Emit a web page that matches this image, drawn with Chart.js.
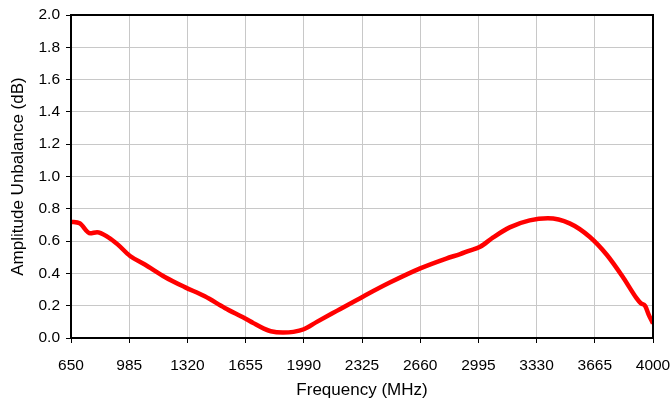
<!DOCTYPE html>
<html>
<head>
<meta charset="utf-8">
<script src="https://cdn.jsdelivr.net/npm/chart.js@4"></script>
<style>
  html, body { margin: 0; padding: 0; background: #fff; }
  #wrap { width: 672px; height: 404px; position: relative; }
</style>
</head>
<body>
<div id="wrap"><canvas id="ampChart"></canvas></div>
<script>
// Frequency sweep (MHz) and measured amplitude unbalance (dB)
const freqs = [650, 700, 760, 800, 865, 920, 990, 1075, 1190, 1305, 1420, 1535, 1650, 1700,
               1760, 1800, 1870, 1930, 1990, 2065, 2180, 2330, 2485, 2660, 2810, 2890, 2940,
               3005, 3080, 3175, 3290, 3395, 3520, 3635, 3735, 3830, 3905, 3930, 3955, 3975, 4000];
const unbalance = [0.72, 0.71, 0.648, 0.655, 0.623, 0.578, 0.508, 0.455, 0.378, 0.315, 0.258, 0.186, 0.122, 0.092,
                   0.058, 0.042, 0.034, 0.038, 0.054, 0.100, 0.168, 0.256, 0.343, 0.431, 0.492, 0.520, 0.540,
                   0.565, 0.623, 0.685, 0.728, 0.741, 0.710, 0.627, 0.514, 0.372, 0.247, 0.215, 0.198, 0.145, 0.090];
const xTicks = [650, 985, 1320, 1655, 1990, 2325, 2660, 2995, 3330, 3665, 4000];

const tickFont = { family: 'Liberation Sans, Arial, sans-serif', size: 15.5 };
const titleFont = { family: 'Liberation Sans, Arial, sans-serif', size: 17 };

// black frame round the plot area (top and right sides)
const framePlugin = {
  id: 'frame',
  afterDraw(chart) {
    const { ctx, chartArea: a } = chart;
    ctx.save();
    ctx.strokeStyle = '#000';
    ctx.lineWidth = 2;
    ctx.strokeRect(a.left, a.top, a.right - a.left, a.bottom - a.top);
    ctx.restore();
  }
};

const ctx = document.getElementById('ampChart').getContext('2d');
new Chart(ctx, {
  type: 'line',
  data: {
    datasets: [{
      data: freqs.map((f, i) => ({ x: f, y: unbalance[i] })),
      borderColor: '#ff0000',
      borderWidth: 4.5,
      pointRadius: 0,
      cubicInterpolationMode: 'monotone',
      fill: false
    }]
  },
  options: {
    responsive: true,
    maintainAspectRatio: false,
    animation: false,
    layout: { padding: { top: 15, right: 19, bottom: 0, left: 0 } },
    plugins: { legend: { display: false }, tooltip: { enabled: false } },
    scales: {
      x: {
        type: 'linear',
        min: 650,
        max: 4000,
        afterBuildTicks: axis => { axis.ticks = xTicks.map(v => ({ value: v })); },
        afterFit: axis => {
          axis.height = 66;
          axis.paddingLeft = 0;
          axis.paddingRight = 0;
        },
        ticks: { color: '#000', font: tickFont, padding: 13, maxRotation: 0, autoSkip: false, callback: v => String(v) },
        grid: { color: '#c8c8c8', tickColor: '#000', tickLength: 5 },
        border: { color: '#000', width: 2 },
        title: { display: true, text: 'Frequency (MHz)', color: '#000', font: titleFont, padding: { top: 0, bottom: 3 } }
      },
      y: {
        min: 0,
        max: 2,
        afterFit: axis => {
          axis.width = 71;
          axis.paddingTop = 0;
          axis.paddingBottom = 0;
        },
        ticks: { stepSize: 0.2, color: '#000', font: tickFont, padding: 6, callback: v => v.toFixed(1) },
        grid: { color: '#c8c8c8', tickColor: '#000', tickLength: 5 },
        border: { color: '#000', width: 2 },
        title: { display: true, text: 'Amplitude Unbalance (dB)', color: '#000', font: titleFont, padding: { top: 8, bottom: 0 } }
      }
    }
  },
  plugins: [framePlugin]
});
</script>
</body>
</html>
